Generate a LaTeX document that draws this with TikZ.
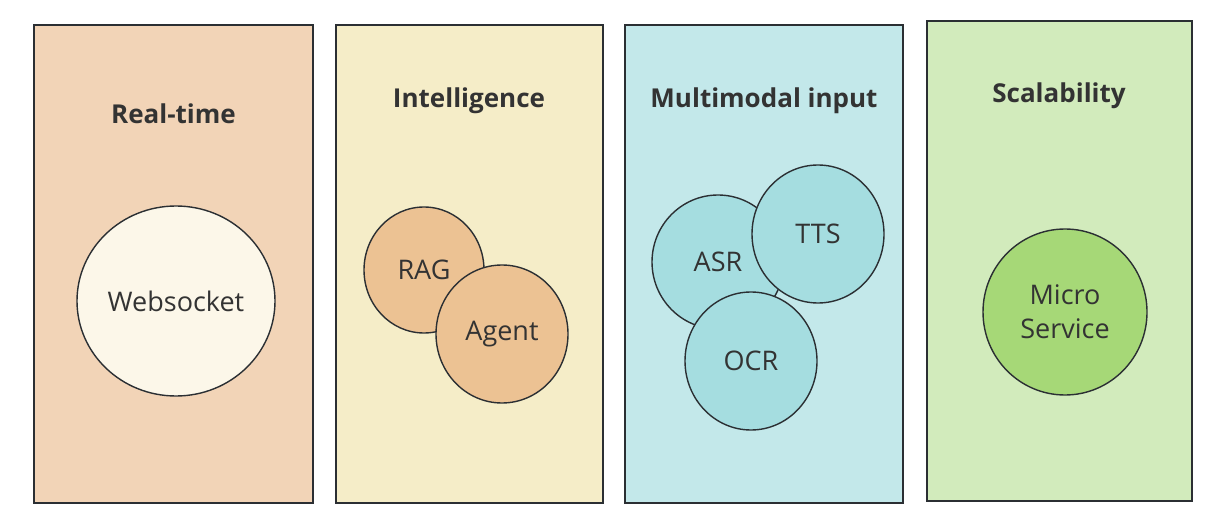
\documentclass[tikz,border=0pt]{standalone}
\usepackage{fontspec}
\setmainfont{Open Sans}
\usetikzlibrary{shapes.geometric}
\definecolor{edge}{HTML}{2B2F33}
\definecolor{txt}{HTML}{333333}
\definecolor{pA}{HTML}{F2D4B7}
\definecolor{pB}{HTML}{F5EDC8}
\definecolor{pC}{HTML}{C3E8EA}
\definecolor{pD}{HTML}{D2EBBC}
\definecolor{cA}{HTML}{FCF7E9}
\definecolor{cB}{HTML}{ECC293}
\definecolor{cC}{HTML}{A5DDE0}
\definecolor{cD}{HTML}{A6D877}
\begin{document}
\begin{tikzpicture}[x=1pt,y=-1pt,
  panel/.style={draw=edge,line width=1.4pt,rectangle,inner sep=0pt},
  title/.style={anchor=base,text=txt,font=\fontsize{26}{30}\selectfont\bfseries},
  lbl/.style={text=txt,font=\fontsize{27}{34}\selectfont,align=center},
  bubble/.style={draw=edge,line width=1.4pt,ellipse,inner sep=0pt,text=txt,font=\fontsize{27}{34}\selectfont,align=center}]
\useasboundingbox (0,0) rectangle (1222,526);
% panels
\node[panel,fill=pA,minimum width=279pt,minimum height=478pt] (p1) at (173.5,264) {};
\node[panel,fill=pB,minimum width=267pt,minimum height=478pt] (p2) at (469.5,264) {};
\node[panel,fill=pC,minimum width=278pt,minimum height=478pt] (p3) at (764,264) {};
\node[panel,fill=pD,minimum width=265pt,minimum height=480pt] (p4) at (1059.5,261) {};
% titles
\node[title] (t1) at (173.5,124) {Real-time};
\node[title] (t2) at (469,108) {Intelligence};
\node[title] (t3) at (764,108) {Multimodal input};
\node[title] (t4) at (1059,103) {Scalability};
% circles
\node[bubble,fill=cA,minimum width=198pt,minimum height=190pt,label={[lbl]center:Websocket}] (ws) at (176,301) {};
\node[bubble,fill=cB,minimum width=120pt,minimum height=126pt,label={[lbl]center:RAG}] (rag) at (424,270) {};
\node[bubble,fill=cB,minimum width=132pt,minimum height=138pt,label={[lbl]center:Agent}] (agent) at (502,334) {};
\node[bubble,fill=cC,minimum width=132pt,minimum height=134pt,label={[lbl]center:ASR}] (asr) at (718,262) {};
\node[bubble,fill=cC,minimum width=132pt,minimum height=138pt,label={[lbl]center:TTS}] (tts) at (818,234) {};
\node[bubble,fill=cC,minimum width=132pt,minimum height=138pt,label={[lbl]center:OCR}] (ocr) at (751,361) {};
\node[bubble,fill=cD,minimum width=164pt,minimum height=166pt] (ms) at (1065,312) {Micro\\Service};
\end{tikzpicture}
\end{document}
